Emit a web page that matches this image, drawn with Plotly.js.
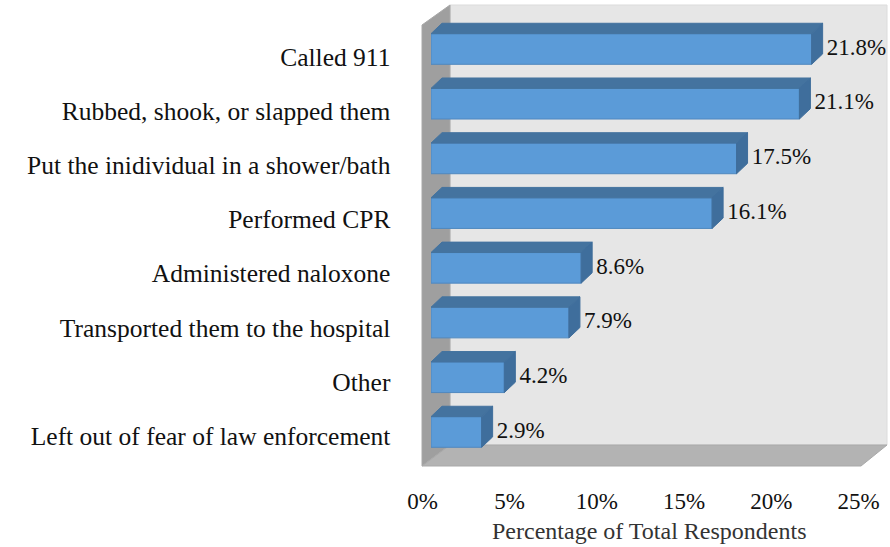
<!DOCTYPE html>
<html>
<head>
<meta charset="utf-8">
<script src="https://cdn.plot.ly/plotly-3.0.1.min.js"></script>
<style>html,body{margin:0;padding:0;background:#fff}#chart{width:890px;height:547px}</style>
</head>
<body>
<div id="chart"></div>
<script>
// Data
var categories = ["Called 911","Rubbed, shook, or slapped them","Put the inidividual in a shower/bath","Performed CPR","Administered naloxone","Transported them to the hospital","Other","Left out of fear of law enforcement"];
var percentages = [21.8,21.1,17.5,16.1,8.6,7.9,4.2,2.9];
var xTicks = [0,5,10,15,20,25];
var axisTitle = "Percentage of Total Respondents";

// Style / geometry
var W=890,H=547;
var FONT="Liberation Serif";
var dx=0.63, dy=0.19, barW=0.56, labelPad=0.24;
var px=function(x){return x/W;}, py=function(y){return 1-y/H;};
function poly(pts,fill,line){
  return {type:"path",xref:"paper",yref:"paper",layer:"below",fillcolor:fill,
    line:{color:line||fill,width:1},
    path:pts.map(function(p,i){return (i?"L":"M")+px(p[0]).toFixed(5)+","+py(p[1]).toFixed(5);}).join(" ")+" Z"};
}
var index=categories.map(function(_,i){return i;});
var topX=[],topY=[],sideX=[],sideY=[];
percentages.forEach(function(v,i){
  var t=i-barW/2,b=i+barW/2;
  topX.push(0,dx,v+dx,v,0,null); topY.push(t,t-dy,t-dy,t,t,null);
  sideX.push(v,v+dx,v+dx,v,v,null); sideY.push(t,t-dy,b-dy,b,t,null);
});
var traces=[
  {type:"bar",orientation:"h",x:percentages,y:index,width:barW,xaxis:"x",yaxis:"y",
   marker:{color:"#5b9bd8",line:{color:"#4f88bf",width:1}},hoverinfo:"skip"},
  {type:"scatter",mode:"lines",x:topX,y:topY,fill:"toself",fillcolor:"#44739f",line:{color:"#44739f",width:1},xaxis:"x",yaxis:"y",hoverinfo:"skip"},
  {type:"scatter",mode:"lines",x:sideX,y:sideY,fill:"toself",fillcolor:"#3f6e9c",line:{color:"#3f6e9c",width:1},xaxis:"x",yaxis:"y",hoverinfo:"skip"},
  {type:"scatter",mode:"text",x:percentages.map(function(v){return v+dx+labelPad;}),y:index,
   text:percentages.map(function(v){return v.toFixed(1)+"%";}),textposition:"middle right",
   textfont:{family:FONT,size:23,color:"#111"},cliponaxis:false,xaxis:"x",yaxis:"y",hoverinfo:"skip"},
  {type:"scatter",mode:"markers",x:xTicks,y:xTicks.map(function(){return 0;}),marker:{opacity:0,size:1},xaxis:"x2",yaxis:"y2",hoverinfo:"skip"}
];
var layout={
  width:W,height:H,margin:{l:0,r:0,t:0,b:0},showlegend:false,
  paper_bgcolor:"#fff",plot_bgcolor:"rgba(0,0,0,0)",
  font:{family:FONT,size:22,color:"#111"},
  xaxis:{domain:[431/W,867.5/W],range:[0,25],anchor:"y",showgrid:false,zeroline:false,showline:false,showticklabels:false,ticks:"",
    title:{text:axisTitle,standoff:56,font:{family:FONT,size:24,color:"#333"}}},
  yaxis:{domain:[1-466/H,1-5/H],range:[7.622,-0.804],anchor:"x",showgrid:false,zeroline:false,showline:false,showticklabels:false,ticks:""},
  xaxis2:{domain:[422.5/W,858.5/W],range:[0,25],anchor:"y2",side:"bottom",showgrid:false,zeroline:false,showline:false,
    tickmode:"array",tickvals:xTicks,ticktext:xTicks.map(function(t){return t+"%";}),
    ticks:"outside",ticklen:14,tickcolor:"rgba(0,0,0,0)",tickfont:{family:FONT,size:23,color:"#111"}},
  yaxis2:{domain:[1-466/H,1-5/H],range:[7.554,-0.96],anchor:"x2",side:"left",showgrid:false,zeroline:false,showline:false,
    tickmode:"array",tickvals:index,ticktext:categories,
    ticks:"outside",ticklen:26,tickcolor:"rgba(0,0,0,0)",tickfont:{family:FONT,size:25.5,color:"#111"}},
  shapes:[
    poly([[450,5],[887,5],[887,445],[450,445]],"#e6e6e6","#dcdcdc"),
    poly([[422,25],[450,5],[450,445],[422,466]],"#9f9f9f","#a8a8a8"),
    poly([[450,445],[887,445],[861,466],[422,466]],"#b3b3b3","#a9a9a9")
  ]
};
Plotly.newPlot("chart",traces,layout,{displayModeBar:false,staticPlot:true});
</script>
</body>
</html>
